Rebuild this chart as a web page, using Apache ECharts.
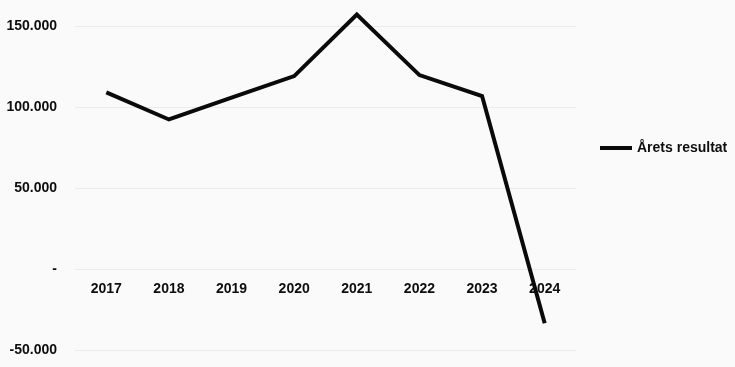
<!DOCTYPE html>
<html>
<head>
<meta charset="utf-8">
<script src="https://cdn.jsdelivr.net/npm/echarts@6/dist/echarts.min.js"></script>
<style>html,body{margin:0;padding:0;background:#fafafa;}#c{width:735px;height:367px;}</style>
</head>
<body>
<div id="c"></div>
<script>
const categories = ['2017','2018','2019','2020','2021','2022','2023','2024'];
const seriesName = 'Årets resultat';
const values = [109000, 92300, 105800, 119100, 157100, 119700, 106800, -33500];

function fmt(v){
  if (v === 0) return '-';
  const s = Math.abs(v).toString().replace(/\B(?=(\d{3})+(?!\d))/g, '.');
  return (v < 0 ? '-' : '') + s;
}

const chart = echarts.init(document.getElementById('c'), null, {renderer:'canvas'});
const font = {fontFamily:'Liberation Sans, Arial, sans-serif', fontWeight:'bold', fontSize:14, color:'#0d0d0d'};
chart.setOption({
  backgroundColor:'#fafafa',
  animation:false,
  grid:{left:75, right:159, top:26, bottom:17, containLabel:false, outerBoundsMode:'none'},
  legend:{
    data:[{name:seriesName, icon:'rect'}], left:600, top:141, padding:0,
    itemWidth:32, itemHeight:4, itemGap:5,
    itemStyle:{color:'#0a0a0a'},
    textStyle:Object.assign({}, font)
  },
  xAxis:{
    type:'category', data:categories, boundaryGap:true,
    axisLine:{show:false, onZero:false},
    offset:-81,
    axisTick:{show:false},
    axisLabel:Object.assign({margin:13}, font)
  },
  yAxis:{
    type:'value', min:-50000, max:150000, interval:50000,
    axisLine:{show:false}, axisTick:{show:false},
    splitLine:{lineStyle:{color:'#ebebeb', width:1}},
    axisLabel:Object.assign({margin:18, formatter:fmt}, font)
  },
  series:[{
    name:seriesName, type:'line', data:values, symbol:'none', showSymbol:false, clip:false,
    lineStyle:{color:'#0a0a0a', width:4, join:'miter'}, itemStyle:{color:'#0a0a0a'}
  }]
});
</script>
</body>
</html>
